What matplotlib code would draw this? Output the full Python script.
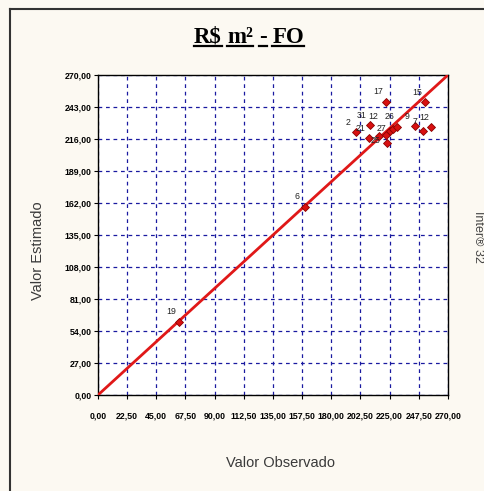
import matplotlib
matplotlib.use("Agg")
import matplotlib.pyplot as plt
from matplotlib.lines import Line2D

# valores (observado x estimado)
point_ids = ["19", "6", "2", "31", "21", "12", "27", "25", "", "", "26", "17", "15", "9", "7", "12"]
observado = [62.7, 159.7, 198.9, 209.6, 208.8, 216.5, 221.8, 222.6, 225.4, 227.9, 231.0, 222.3, 252.0, 244.5, 250.8, 257.2]
estimado = [61.9, 158.9, 221.7, 227.7, 216.6, 218.3, 219.2, 212.3, 222.6, 224.5, 226.5, 247.5, 246.8, 226.8, 222.6, 226.0]

x_ticks = [0, 22.5, 45, 67.5, 90, 112.5, 135, 157.5, 180, 202.5, 225, 247.5, 270]
y_ticks = [0, 27, 54, 81, 108, 135, 162, 189, 216, 243, 270]
title_words = ["R$", "m²", "-", "FO"]

W, H = 485, 491
BG = "#fcf9f2"
SANS = ["Liberation Sans", "DejaVu Sans"]


def fmt(v):
    return f"{v:.2f}".replace(".", ",")


fig = plt.figure(figsize=(W / 100, H / 100), dpi=100)
fig.patch.set_facecolor(BG)

ax = fig.add_axes([98 / W, 1 - 395 / H, 350 / W, 320 / H])
ax.set_facecolor("white")
ax.set_xlim(0, 270)
ax.set_ylim(0, 270)

# diagonal de referencia y = x
ax.plot([x_ticks[0], x_ticks[-1]], [y_ticks[0], y_ticks[-1]], color="#e01818", lw=2, zorder=3)
ax.plot(observado, estimado, linestyle="none", marker="D", markersize=4.2,
        markerfacecolor="#d81010", markeredgecolor="#8a0000", markeredgewidth=0.6, zorder=4)
for i, (pid, xo, ye) in enumerate(zip(point_ids, observado, estimado)):
    if not pid:
        continue
    dx, dy = -5.5, 7
    # rotulos do grupo apertado
    if i == 5:
        dx, dy = -4, 14.5
    elif i == 6:
        dx, dy = -3, 5
    elif i == 7:
        dx, dy = -8, 2
    ax.annotate(pid, (xo, ye), xytext=(dx, dy), textcoords="offset points",
                ha="center", va="center", fontsize=6.3, color="#222222",
                family=SANS, zorder=5)

ax.set_xticks(x_ticks)
ax.set_yticks(y_ticks)
ax.set_xticklabels([fmt(v) for v in x_ticks])
ax.set_yticklabels([fmt(v) for v in y_ticks])
ax.grid(True, color="#1a1aa0", linestyle=(0, (3, 3)), linewidth=0.9)
ax.set_axisbelow(True)
ax.tick_params(axis="both", direction="out", length=3, width=0.8, labelsize=6.3,
               colors="black")
ax.tick_params(axis="x", pad=9)
ax.tick_params(axis="y", pad=1.5)
for lbl in ax.get_xticklabels() + ax.get_yticklabels():
    lbl.set_family(SANS)
    lbl.set_fontweight("bold")
for sp in ax.spines.values():
    sp.set_linewidth(1)
    sp.set_color("black")

fig.text(281 / W, 1 - 463 / H, "Valor Observado", ha="center", va="center",
         fontsize=10.5, color="#3a3a3a", family=SANS)
fig.text(38.5 / W, 1 - 251 / H, "Valor Estimado", ha="center", va="center", rotation=90,
         fontsize=10.5, color="#3a3a3a", family=SANS)
fig.text(478 / W, 1 - 237 / H, "Inter® 32", ha="center", va="center", rotation=270,
         fontsize=9, color="#444444", family=SANS)

# titulo sublinhado palavra a palavra
renderer = fig.canvas.get_renderer()
tkw = dict(fontsize=16.5, fontweight="bold", family=["Liberation Serif", "DejaVu Serif"],
           va="baseline", ha="left", color="black")
widths = []
for w in title_words:
    t = fig.text(0, 0, w, **tkw)
    widths.append(t.get_window_extent(renderer).width)
    t.remove()
t = fig.text(0, 0, "a a", **tkw)
t2 = fig.text(0, 0, "aa", **tkw)
space = t.get_window_extent(renderer).width - t2.get_window_extent(renderer).width
t.remove()
t2.remove()
total = sum(widths) + space * (len(widths) - 1)
x = 249 - total / 2
base_y = H - 43
for w, wd in zip(title_words, widths):
    fig.text(x / W, base_y / H, w, **tkw)
    fig.add_artist(Line2D([x / W, (x + wd) / W], [(base_y - 3) / H, (base_y - 3) / H],
                          transform=fig.transFigure, color="black", lw=1.6))
    x += wd + space

# moldura externa
fig.add_artist(Line2D([10 / W, 10 / W], [0, 1 - 9 / H], transform=fig.transFigure,
                      color="#333333", lw=1.5))
fig.add_artist(Line2D([10 / W, 1], [1 - 9 / H, 1 - 9 / H], transform=fig.transFigure,
                      color="#333333", lw=1.5))

fig.savefig("out.png", dpi=100, facecolor=BG)
